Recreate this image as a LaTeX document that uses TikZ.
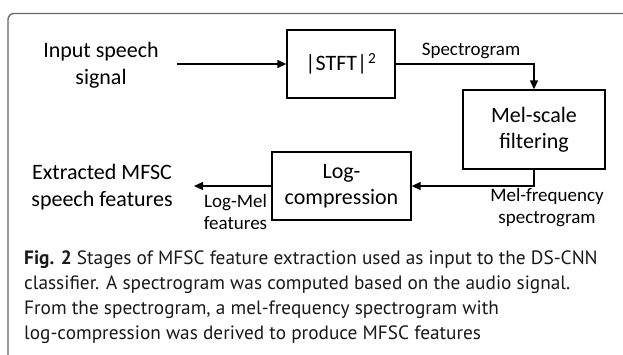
\documentclass[tikz,border=0pt]{standalone}
\usepackage{fontspec}
\setmainfont{Carlito}
\newfontfamily\capfont{PT Sans}
\usetikzlibrary{arrows.meta}
\tikzset{
  blk/.style={draw=black, line width=1.4pt, inner sep=0pt, align=center,
    font=\fontsize{22}{26.5}\selectfont},
  bigtxt/.style={align=center, inner sep=0pt, font=\fontsize{22}{26.5}\selectfont},
  lbl/.style={align=center, inner sep=0pt, font=\fontsize{19}{22}\selectfont},
  conn/.style={line width=1.4pt, -{Triangle[length=9pt,width=8pt]}},
  capline/.style={anchor=base west, inner sep=0pt, text=black!90,
    font=\capfont\fontsize{19.3}{25}\selectfont},
  frame/.style={draw=black!60, line width=1.3pt, rounded corners=6pt}
}
\begin{document}
\begin{tikzpicture}[x=1pt,y=-1pt]
\useasboundingbox (0,0) rectangle (623,354);
% frame
\draw[frame] (8,360) -- (8,13.5) -- (630,13.5);
% blocks
\node[blk, minimum width=108pt, minimum height=68pt] (stft) at (341,64) {|STFT|\textsuperscript{\kern1pt 2}};
\node[blk, minimum width=142pt, minimum height=79pt] (mel) at (534,129.5) {Mel-scale\\filtering};
\node[blk, minimum width=139pt, minimum height=68pt] (log) at (341.5,186) {Log-\\compression};
% texts
\node[bigtxt] (inp) at (101,65) {Input speech\\signal};
\node[bigtxt] (outtxt) at (102,187) {Extracted MFSC\\speech features};
\coordinate (src) at (177,64);
\coordinate (dst) at (194,186);
\coordinate (bend1) at (534,64);
\coordinate (bend2) at (534,186);
% connectors
\draw[conn] (src) -- (stft.west);
\draw[conn] (stft.east) -- (bend1) -- (mel.north);
\draw[conn] (mel.south) -- (bend2) -- (log.east);
\draw[conn] (log.west) -- (dst);
% labels
\node[lbl] (lspec) at (471,51) {Spectrogram};
\node[lbl] (lmelf) at (547,207.5) {Mel-frequency\\spectrogram};
\node[lbl] (llogmel) at (235.5,212) {Log-Mel\\features};
% caption
\node[capline] (c1) at (24,264) {\textbf{Fig. 2} Stages of MFSC feature extraction used as input to the DS-CNN};
\node[capline] (c2) at (24,289) {classifier. A spectrogram was computed based on the audio signal.};
\node[capline] (c3) at (24,314) {From the spectrogram, a mel-frequency spectrogram with};
\node[capline] (c4) at (24,339) {log-compression was derived to produce MFSC features};
\end{tikzpicture}
\end{document}
